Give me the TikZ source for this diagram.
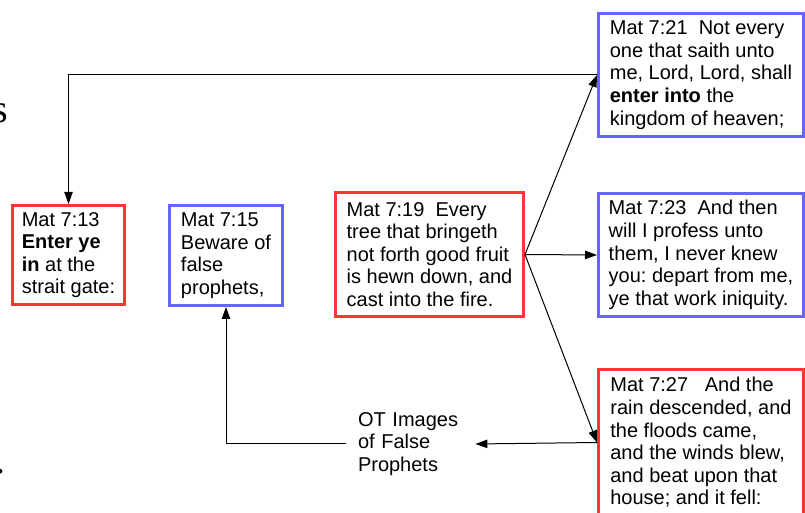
\documentclass[tikz,border=0pt]{standalone}
\usepackage{fontspec}
\setmainfont{Liberation Sans}
\newfontfamily\edgeserif{Liberation Serif}
\usetikzlibrary{arrows.meta}
\definecolor{boxred}{RGB}{255,51,51}
\definecolor{boxblue}{RGB}{102,102,255}
\frenchspacing
\begin{document}
\begin{tikzpicture}[x=0.5pt, y=-0.5pt, font=\fontsize{10pt}{11.3pt}\selectfont, line cap=round, line join=round, >={Triangle[length=6pt,width=4.2pt]}]
	\tikzset{verse/.style={draw, line width=1.5pt, align=left, inner sep=0pt, line join=miter, line cap=butt},
		redverse/.style={verse, draw=boxred},
		blueverse/.style={verse, draw=boxblue},
		link/.style={->, line width=0.5pt}}
	\useasboundingbox (0,0) rectangle (805,513);
	% cut-off text at the left edge
	\node[anchor=base east, inner sep=0pt, font=\edgeserif\fontsize{20pt}{24pt}\selectfont] (edgeS) at (8.5,123) {s};
	\node[anchor=base east, inner sep=0pt, font=\edgeserif\fontsize{20pt}{24pt}\selectfont] (edgeDot) at (6,474) {.};
	% verse boxes
	\node[redverse, minimum width=56pt, minimum height=49.5pt] (m13) at (68.5,255) {Mat 7:13\\\textbf{Enter ye}\\\textbf{in} at the\\strait gate:};
	\node[blueverse, minimum width=56.5pt, minimum height=50pt] (m15) at (226,255.5) {Mat 7:15\\Beware of\\false\\prophets,};
	\node[redverse, minimum width=94pt, minimum height=62pt] (m19) at (429.5,254.5) {Mat 7:19\ \ Every\\tree that bringeth\\not forth good fruit\\is hewn down, and\\cast into the fire.};
	\node[blueverse, minimum width=102.5pt, minimum height=61.5pt] (m21) at (701,75) {Mat 7:21\ \ Not every\\one that saith unto\\me, Lord, Lord, shall\\\textbf{enter into} the\\kingdom of heaven;};
	\node[blueverse, minimum width=102.5pt, minimum height=61.5pt] (m23) at (701,255) {Mat 7:23\ \ And then\\will I profess unto\\them, I never knew\\you: depart from me,\\ye that work iniquity.};
	\node[redverse, minimum width=102.5pt, minimum height=73pt] (m27) at (701,442.5) {Mat 7:27\ \ \ And the\\rain descended, and\\the floods came,\\and the winds blew,\\and beat upon that\\house; and it fell:};
	\node[align=left, text width=52.5pt, inner xsep=6pt, inner ysep=0pt] (otImages) at (410.5,444) {OT Images\\of False\\Prophets};
	% connectors
	\draw[link] (m21.west) -| (m13.north);
	\draw[link] (m19.east) -- (m21.west);
	\draw[link] (m19.east) -- (m23.west);
	\draw[link] (m19.east) -- (m27.west);
	\draw[link] (m27.west) -- (otImages.east);
	\draw[link] (otImages.west) -| (m15.south);
\end{tikzpicture}
\end{document}
